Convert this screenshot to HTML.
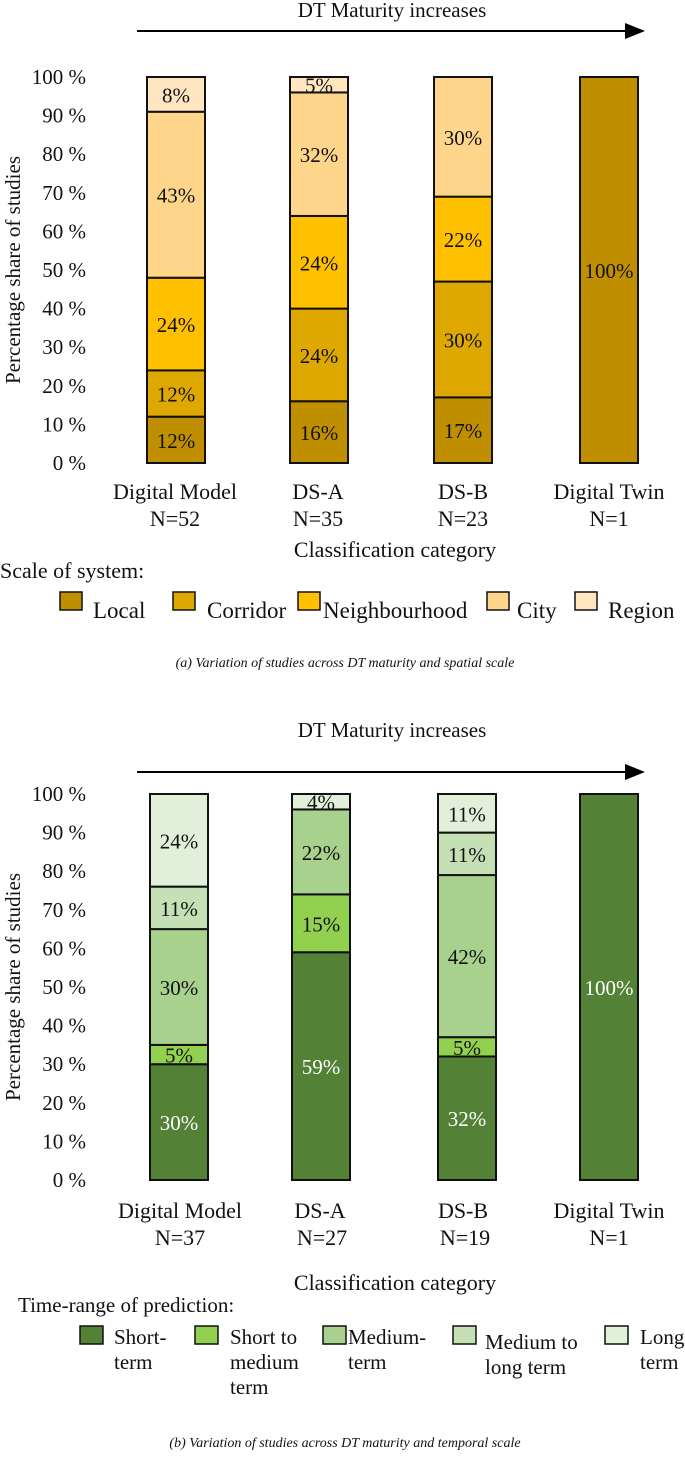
<!DOCTYPE html>
<html><head><meta charset="utf-8">
<style>
html,body{margin:0;padding:0;background:#fff;}
svg{display:block;font-family:"Liberation Serif",serif;}
</style></head>
<body>
<svg id="fig" width="685" height="1462" viewBox="0 0 685 1462" xmlns="http://www.w3.org/2000/svg">
<defs><marker id="ah" markerWidth="10" markerHeight="8" refX="9" refY="4" orient="auto"><path d="M0,0 L10,4 L0,8 z" fill="#000"/></marker></defs>
</svg>
<script>
const categoriesA = ["Digital Model","DS-A","DS-B","Digital Twin"];
const countsA = ["N=52","N=35","N=23","N=1"];
const seriesNamesA = ["Local","Corridor","Neighbourhood","City","Region"];
const localA = [12,16,17,100];
const corridorA = [12,24,30,0];
const neighbourhoodA = [24,24,22,0];
const cityA = [43,32,30,0];
const regionA = [8,5,0,0];

const categoriesB = ["Digital Model","DS-A","DS-B","Digital Twin"];
const countsB = ["N=37","N=27","N=19","N=1"];
const shortB = [30,59,32,100];
const shortMedB = [5,15,5,0];
const mediumB = [30,22,42,0];
const medLongB = [11,0,11,0];
const longB = [24,4,11,0];

const yTicks = [0,10,20,30,40,50,60,70,80,90,100];
const NS="http://www.w3.org/2000/svg";
const svg=document.getElementById('fig');
function mk(tag,attrs,parent){const e=document.createElementNS(NS,tag);for(const k in attrs)e.setAttribute(k,attrs[k]);(parent||svg).appendChild(e);return e;}
function txt(s,x,y,size,anchor,parent,extra){const t=mk('text',Object.assign({x:x,y:y,'font-size':size,'text-anchor':anchor||'middle',fill:'#111'},extra||{}),parent);t.textContent=s;return t;}

function chart(o){
  const g=mk('g',{});
  
  
  const yScale=v=>o.y0-(o.y0-o.y100)*v/100;
  const tt=txt("DT Maturity increases",392,o.titleY,21,'middle',g);
  
  
  const ar=mk('line',{x1:137,y1:o.arrowY,x2:643,y2:o.arrowY,stroke:'#000','stroke-width':2,'marker-end':'url(#ah)'},g);
  
  
  yTicks.forEach(v=>{
    const t=txt(v+" %",86,yScale(v)+7,21,'end',g);
    
    
  });
  const yt=txt("Percentage share of studies",0,0,21,'middle',g,{transform:`translate(${o.ytX},${(o.y0+o.y100)/2}) rotate(-90)`});
  
  
  o.cats.forEach((c,i)=>{
    const x=o.barX[i], w=58;
    let cum=0;
    o.series.forEach((s,si)=>{
      const v=s[i]; if(!v) return;
      let top=cum+v; if(o.series.slice(si+1).every(a=>!a[i])) top=100;
      const r=mk('rect',{x:x,y:yScale(top),width:w,height:yScale(cum)-yScale(top),fill:o.colors[si],stroke:'#111','stroke-width':2},g);
      
      
      const lbl=txt(v+"%",x+w/2,(yScale(cum)+yScale(top))/2+8,21,'middle',g,{fill:o.textColors[si]});
      
      
      cum+=v;
    });
    const cl=txt(c,o.labX[i],o.catY,22,'middle',g);
    
    
    const nl=txt(o.counts[i],o.labX[i]+o.nOff[i],o.catY+27,22,'middle',g);
    
    
  });
  const xt=txt("Classification  category",395,o.xtY,22,'middle',g,{'xml:space':'preserve'});
  
  
  return g;
}

chart({name:'chart-spatial-scale',y0:463,y100:77,titleY:17,arrowY:31,ytX:20,
  cats:categoriesA,counts:countsA,barX:[147,290,434,580],labX:[175,318,463,609],nOff:[0,0,0,0],catY:499,xtY:557,
  series:[localA,corridorA,neighbourhoodA,cityA,regionA],
  colors:["#BF8F00","#DFA800","#FFC000","#FFD58C","#FFE6C0"],
  textColors:["#111","#111","#111","#111","#111"]});
chart({name:'chart-temporal-scale',y0:1180,y100:794,titleY:737,arrowY:772,ytX:20,
  cats:categoriesB,counts:countsB,barX:[150,292,438,580],labX:[180,320,463,609],nOff:[0,2,2,0],catY:1218,xtY:1290,
  series:[shortB,shortMedB,mediumB,medLongB,longB],
  colors:["#538135","#92D050","#A9D18E","#C5E0B4","#E2F0D9"],
  textColors:["#fff","#111","#111","#111","#111"]});

const lgA=mk('g',{});


txt("Scale of system:",0,578,22,'start',lgA);
const legA=[["Local",60,93,"#BF8F00"],["Corridor",173,207,"#DFA800"],["Neighbourhood",298,323,"#FFC000"],["City",487,517,"#FFD58C"],["Region",575,608,"#FFE6C0"]];
legA.forEach(l=>{
  const r=mk('rect',{x:l[1],y:592,width:22,height:18,fill:l[3],stroke:'#111','stroke-width':1.5},lgA);
  
  
  const t=txt(l[0],l[2],618,23,'start',lgA);
  
  
});
const capA=txt("(a)   Variation of studies across DT maturity and spatial scale",345,667,14,'middle',svg,{'font-style':'italic','xml:space':'preserve'});



const lgB=mk('g',{});


txt("Time-range of prediction:",18,1312,21,'start',lgB);
const legB=[[["Short-","term"],80,114,0,"#538135"],[["Short to","medium","term"],195,230,0,"#92D050"],[["Medium-","term"],323,348,0,"#A9D18E"],[["Medium to","long term"],453,485,5,"#C5E0B4"],[["Long-","term"],605,640,0,"#E2F0D9"]];
legB.forEach(l=>{
  const r=mk('rect',{x:l[1],y:1326,width:23,height:18,fill:l[4],stroke:'#111','stroke-width':1.5},lgB);
  
  
  l[0].forEach((line,k)=>{
    const t=txt(line,l[2],1344+l[3]+k*25,21,'start',lgB);
    
    
  });
});
const capB=txt("(b)   Variation of studies across DT maturity and temporal scale",345,1447,14,'middle',svg,{'font-style':'italic','xml:space':'preserve'});


</script>
</body></html>
